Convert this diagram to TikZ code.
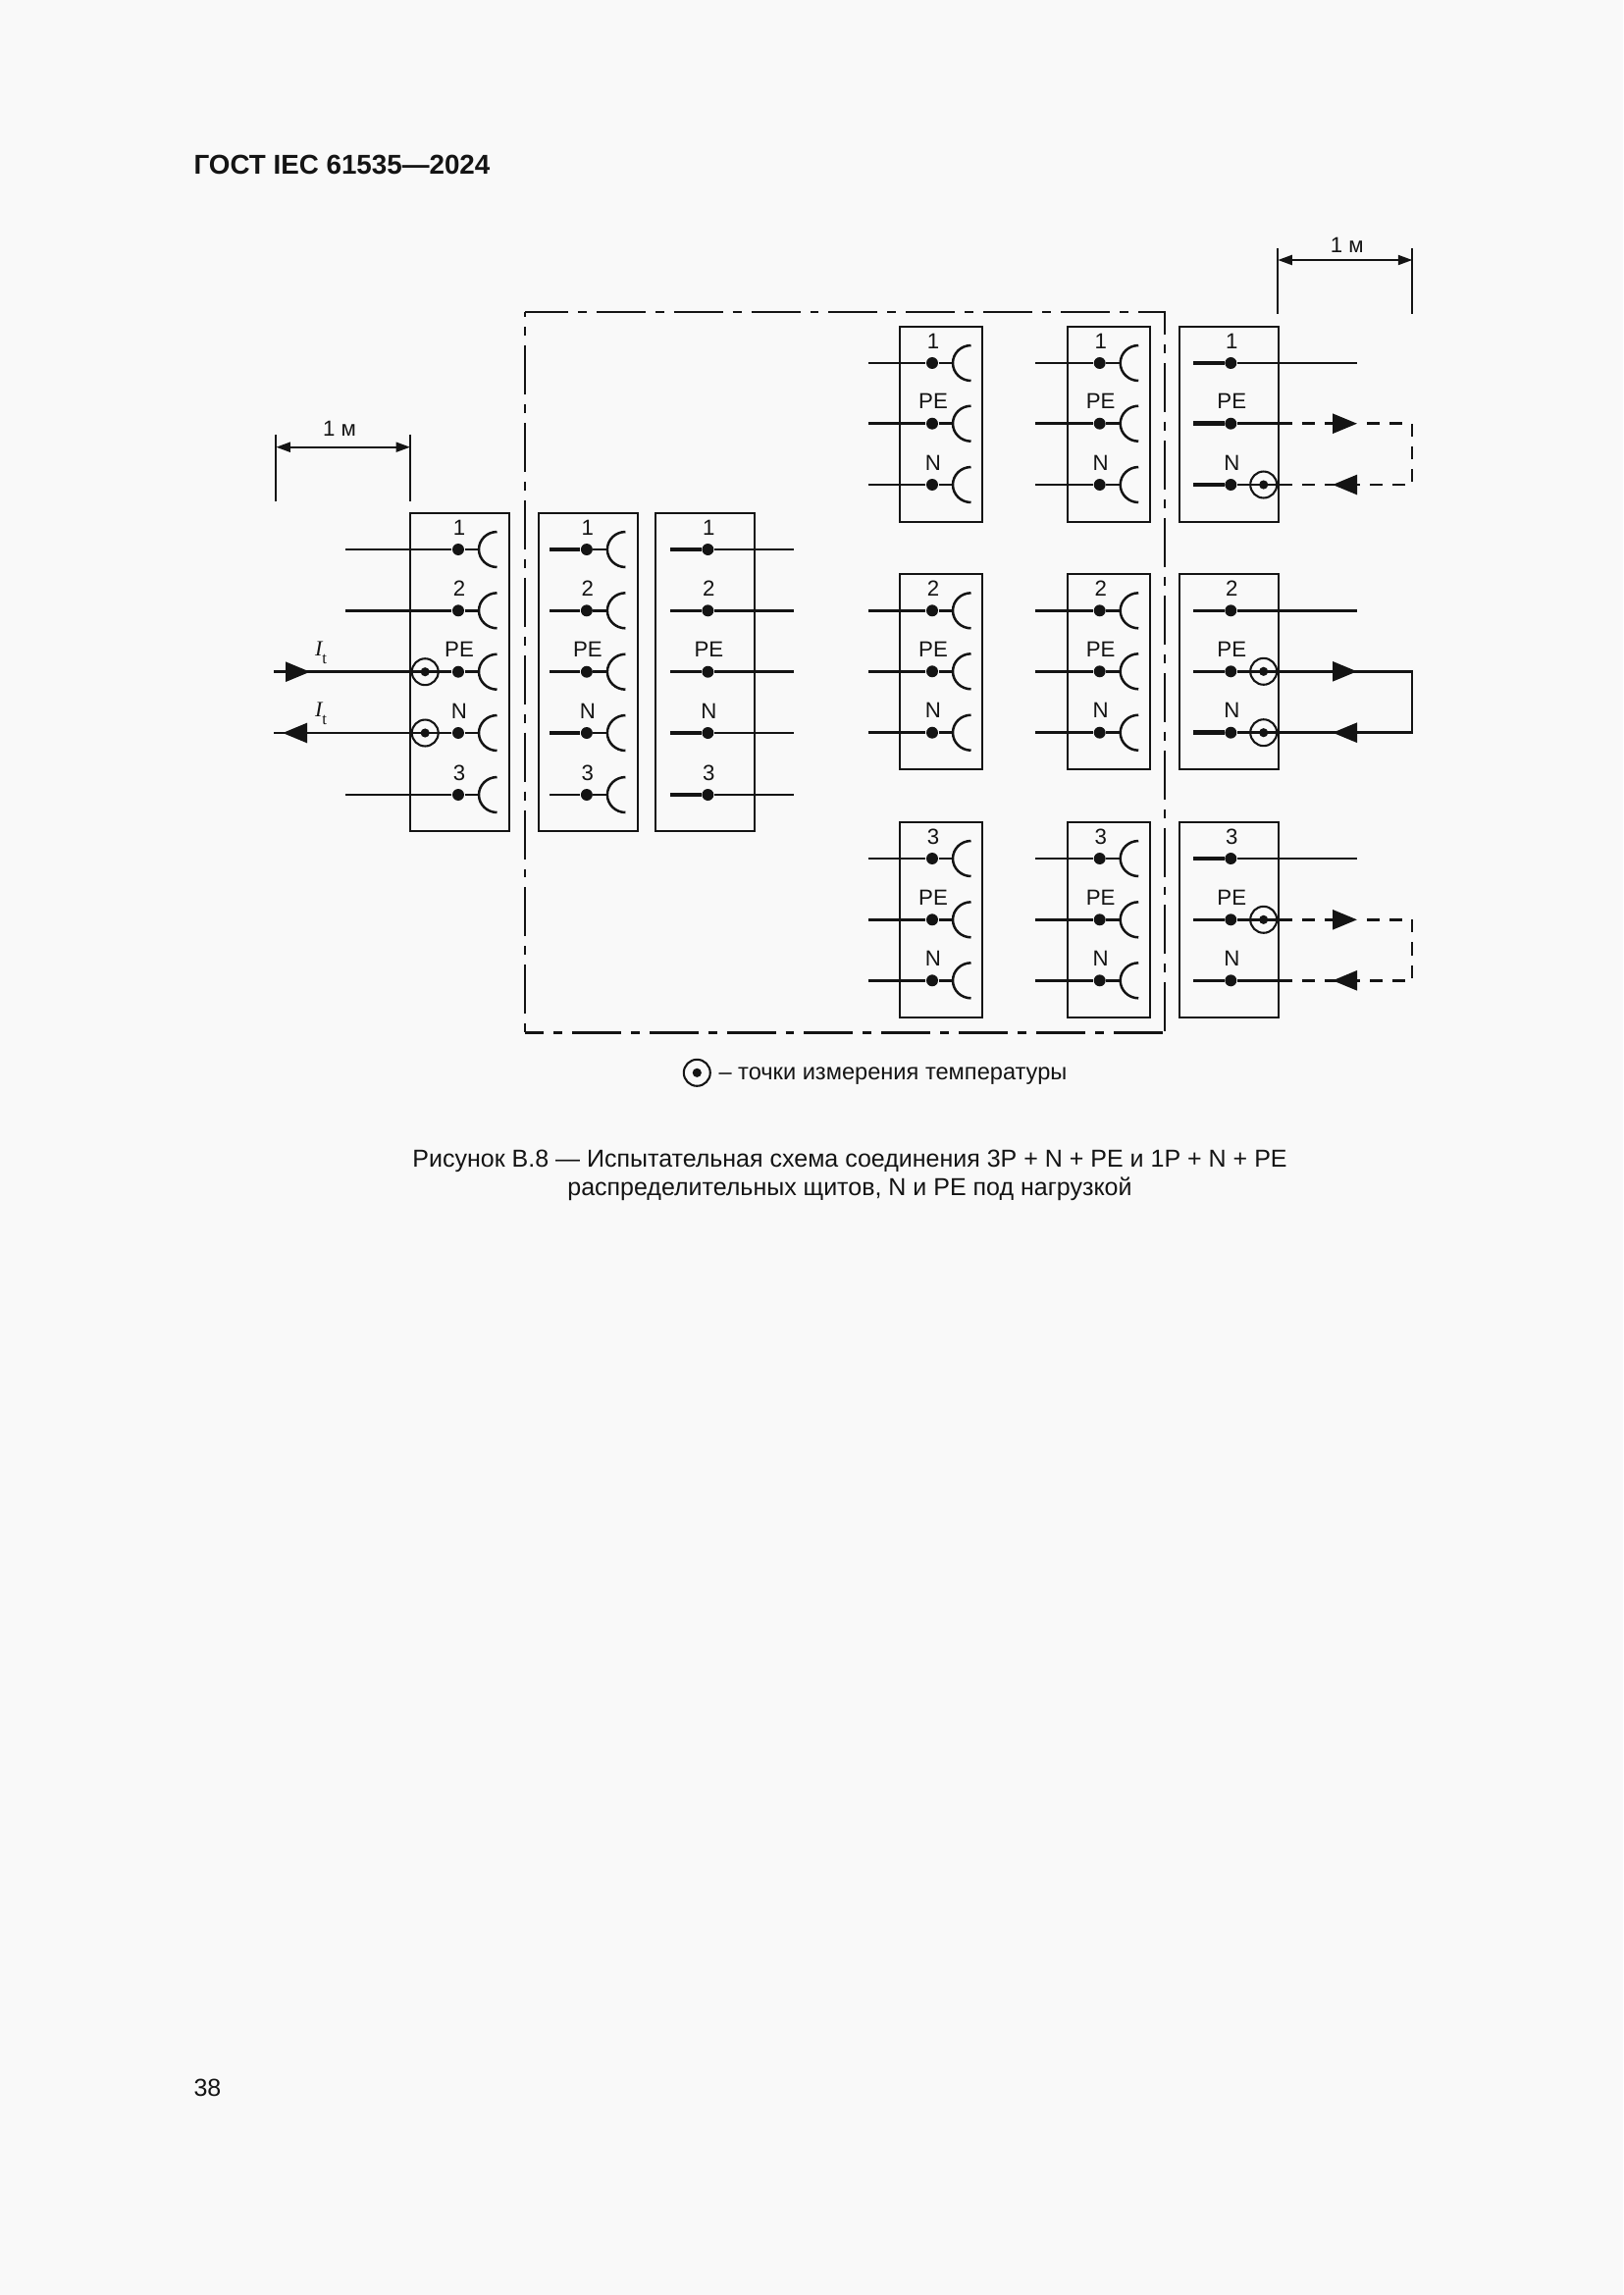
\documentclass[tikz,border=0pt]{standalone}
\usepackage{fontspec}
\setmainfont{Liberation Sans}
\newfontfamily\serfont{Liberation Serif}
\usetikzlibrary{arrows.meta}
\definecolor{pagebg}{HTML}{F9F9F9}
\definecolor{ink}{HTML}{141414}

\tikzset{
  panel/.style={draw=ink,line width=0.75pt,inner sep=0pt},
  wire/.style={draw=ink,line width=0.9pt},
  busmid/.style={draw=ink,line width=1.15pt},
  busbar/.style={draw=ink,line width=1.6pt},
  retdash/.style={dash pattern=on 4.7pt off 3.6pt},
  bighead/.style={-{Triangle[length=9pt,width=7.2pt]}},
  dimline/.style={draw=ink,line width=0.7pt},
  dimhead/.style={{Triangle[length=5.2pt,width=3.6pt]}-{Triangle[length=5.2pt,width=3.6pt]}},
  frameline/.style={draw=ink,line width=0.8pt,dash pattern=on 18pt off 3.6pt on 3.2pt off 3.6pt},
  termdot/.style={circle,fill=ink,inner sep=0pt,minimum size=4.3pt},
  probedot/.style={circle,fill=ink,inner sep=0pt,minimum size=3.3pt},
  ringmark/.style={circle,draw=ink,line width=0.75pt,inner sep=0pt,minimum size=9.7pt},
  termtext/.style={inner sep=0pt,text=ink,font=\fontsize{8}{9}\selectfont},
  bodytext/.style={inner sep=0pt,anchor=base,text=ink,font=\fontsize{9}{11}\selectfont},
}

% name, x, y, label
\newcommand{\pole}[4]{
  \node[termdot] (#1) at (#2,#3) {};
  \node[termtext] (#1-t) at (#2+1,#3-22.5) {#4};
}
\newcommand{\socket}[1]{
  \draw[wire] (#1) -- ++(21,0) coordinate (#1-j);
  \draw[wire] (#1-j) ++(18.5,18) arc (90:270:18.5 and 18);
}
\newcommand{\probe}[3]{
  \node[ringmark] (#1) at (#2,#3) {};
  \node[probedot] (#1-c) at (#2,#3) {};
}
% line style, PE pole, N pole, y of PE, y of N, first x after the box, first x after the head
\newcommand{\returnloop}[7]{
  \coordinate (#2-s) at (1316.7,#4);
  \coordinate (#3-s) at (1316.7,#5);
  \coordinate (#2-d) at (#6,#4);
  \coordinate (#3-d) at (#6,#5);
  \coordinate (#2-h) at (1383,#4);
  \coordinate (#3-h) at (1358,#5);
  \coordinate (#3-e) at (1368,#5);
  \coordinate (#2-r) at (#7,#4);
  \coordinate (#2-c) at (1439,#4);
  \coordinate (#3-c) at (1439,#5);
  \draw[wire] (#2) -- (#2-s);
  \draw[wire] (#3) -- (#3-s);
  \draw[wire,#1,bighead] (#2-d) -- (#2-h);
  \draw[wire,#1,bighead] (#2-r) -- (#2-c) -- (#3-c) -- (#3-h);
  \draw[wire,#1] (#3-d) -- (#3-e);
}

\begin{document}
\begin{tikzpicture}[x=0.36pt,y=-0.36pt]
    \fill[pagebg] (0,0) rectangle (1654,2339);
    \useasboundingbox (0,0) rectangle (1654,2339);

    \node[bodytext,anchor=base west,font=\fontsize{10}{12}\selectfont\bfseries] (header) at (197,177) {ГОСТ IEC 61535—2024};
    \node[bodytext,anchor=base west] (pagenum) at (197,2136) {38};

    % enclosure
    \draw[frameline,dash phase=2.2pt] (535,318.3) -- (1187,318.3) -- (1187,1052.5);
    \draw[frameline,dash phase=16.2pt] (535,318.3) -- (535,1052.5);
    \draw[frameline,dash phase=11.2pt] (535,1052.5) -- (1187,1052.5);

    % panels at the left
    \foreach \pn/\px in {pa/468.6,pb/599.8,pc/718.3}
        \node[panel,minimum width=100.8*0.36pt,minimum height=323.4*0.36pt] (\pn) at (\px,685) {};
    % panels at the right
    \foreach \pn/\px/\pw in {ca/959.2/84,cb/1130/84.6,cc/1252.2/101}
        \foreach \gn/\py/\ph in {1/432.5/198.4,2/684.6/199.3,3/937.2/199}
            \node[panel,minimum width=\pw*0.36pt,minimum height=\ph*0.36pt] (\pn\gn) at (\px,\py) {};

    % first panel
    \foreach \rn/\ry/\rl in {p1/560/1,p2/622.3/2,pe/684.7/PE,n/747/N,p3/810/3} {
        \pole{l\rn}{467}{\ry}{\rl}
        \socket{l\rn}
    }
    \foreach \rn/\ry in {p1/560,p2/622.3,p3/810} {
        \coordinate (l\rn-in) at (352,\ry);
        \draw[wire] (l\rn-in) -- (l\rn);
    }
    \probe{tpe}{433.2}{684.7}
    \probe{tn}{433.2}{747}
    \coordinate (lpe-in) at (279,684.7);
    \coordinate (lpe-h) at (316,684.7);
    \coordinate (ln-in) at (279,747);
    \coordinate (ln-h) at (288,747);
    \draw[wire] (lpe-in) -- (lpe);
    \draw[wire,bighead] (lpe-in) -- (lpe-h);
    \draw[wire] (ln) -- (ln-in);
    \draw[wire,bighead] (ln) -- (ln-h);
    \node[termtext,anchor=base west] (ipe) at (320.5,668) {{\serfont\itshape I}\raisebox{-3pt}{\fontsize{6}{6}\serfont t}};
    \node[termtext,anchor=base west] (in) at (320.5,730) {{\serfont\itshape I}\raisebox{-3pt}{\fontsize{6}{6}\serfont t}};

    % second and third panel
    \foreach \rn/\ry/\rl/\rs in {p1/560/1/busbar,p2/622.3/2/busmid,pe/684.7/PE/busmid,n/747/N/busbar,p3/810/3/wire} {
        \pole{m\rn}{597.9}{\ry}{\rl}
        \coordinate (m\rn-in) at (560,\ry);
        \draw[\rs] (m\rn-in) -- (m\rn);
        \socket{m\rn}
    }
    \foreach \rn/\ry/\rl/\rs in {p1/560/1/busbar,p2/622.3/2/busmid,pe/684.7/PE/busmid,n/747/N/busbar,p3/810/3/busmid} {
        \pole{r\rn}{721.4}{\ry}{\rl}
        \coordinate (r\rn-in) at (683,\ry);
        \coordinate (r\rn-out) at (809,\ry);
        \draw[\rs] (r\rn-in) -- (r\rn);
        \draw[wire] (r\rn) -- (r\rn-out);
    }

    % two columns of sockets
    \foreach \col/\cx in {a/950,b/1120.7}
        \foreach \rn/\ry/\rl in {p1/370/1,pe1/431.7/PE,n1/494/N,p2/622.3/2,pe2/684.3/PE,n2/746.7/N,p3/875/3,pe3/937.3/PE,n3/999.3/N} {
            \pole{\col\rn}{\cx}{\ry}{\rl}
            \coordinate (\col\rn-in) at (\cx-65.4,\ry);
            \draw[wire] (\col\rn-in) -- (\col\rn);
            \socket{\col\rn}
        }

    % last column
    \foreach \rn/\ry/\rl/\rs in {p1/370/1/busbar,pe1/431.7/PE/busbar,n1/494/N/busbar,p2/622.3/2/busmid,pe2/684.3/PE/busmid,n2/746.7/N/busbar,p3/875/3/busmid,pe3/937.3/PE/wire,n3/999.3/N/busmid} {
        \pole{c\rn}{1254.3}{\ry}{\rl}
        \coordinate (c\rn-in) at (1216,\ry);
        \draw[\rs] (c\rn-in) -- (c\rn);
    }
    \foreach \rn/\ry in {p1/370,p2/622.3,p3/875} {
        \coordinate (c\rn-out) at (1383,\ry);
        \draw[wire] (c\rn) -- (c\rn-out);
    }
    \probe{tc1}{1287.7}{494}
    \probe{tc2}{1287.7}{684.3}
    \probe{tc3}{1287.7}{746.7}
    \probe{tc4}{1287.7}{937.3}
    \returnloop{retdash}{cpe1}{cn1}{431.7}{494}{1326.7}{1393}
    \returnloop{}{cpe2}{cn2}{684.3}{746.7}{1316.7}{1372}
    \returnloop{retdash}{cpe3}{cn3}{937.3}{999.3}{1326.7}{1393}

    % dimensions
    \coordinate (dl1) at (281.4,442.7);
    \coordinate (dl2) at (281.4,510.7);
    \coordinate (dl3) at (418,442.7);
    \coordinate (dl4) at (418,510.7);
    \coordinate (dl5) at (281.4,455.7);
    \coordinate (dl6) at (418,455.7);
    \draw[dimline] (dl1) -- (dl2);
    \draw[dimline] (dl3) -- (dl4);
    \draw[dimline,dimhead] (dl5) -- (dl6);
    \node[termtext] (dlt) at (346,437.3) {1 м};
    \coordinate (dr1) at (1302.3,252.7);
    \coordinate (dr2) at (1302.3,320);
    \coordinate (dr3) at (1439.3,252.7);
    \coordinate (dr4) at (1439.3,320);
    \coordinate (dr5) at (1302.3,265);
    \coordinate (dr6) at (1439.3,265);
    \draw[dimline] (dr1) -- (dr2);
    \draw[dimline] (dr3) -- (dr4);
    \draw[dimline,dimhead] (dr5) -- (dr6);
    \node[termtext] (drt) at (1372.7,250) {1 м};

    % legend and caption
    \probe{tleg}{710.3}{1093.3}
    \node[bodytext,anchor=base west,font=\fontsize{8.5}{11}\selectfont] (legend) at (732,1100) {– точки измерения температуры};
    \node[bodytext] (cap1) at (866,1189) {Рисунок В.8 — Испытательная схема соединения 3Р + N + PE и 1Р + N + PE};
    \node[bodytext] (cap2) at (866,1218.5) {распределительных щитов, N и PE под нагрузкой};
\end{tikzpicture}
\end{document}
